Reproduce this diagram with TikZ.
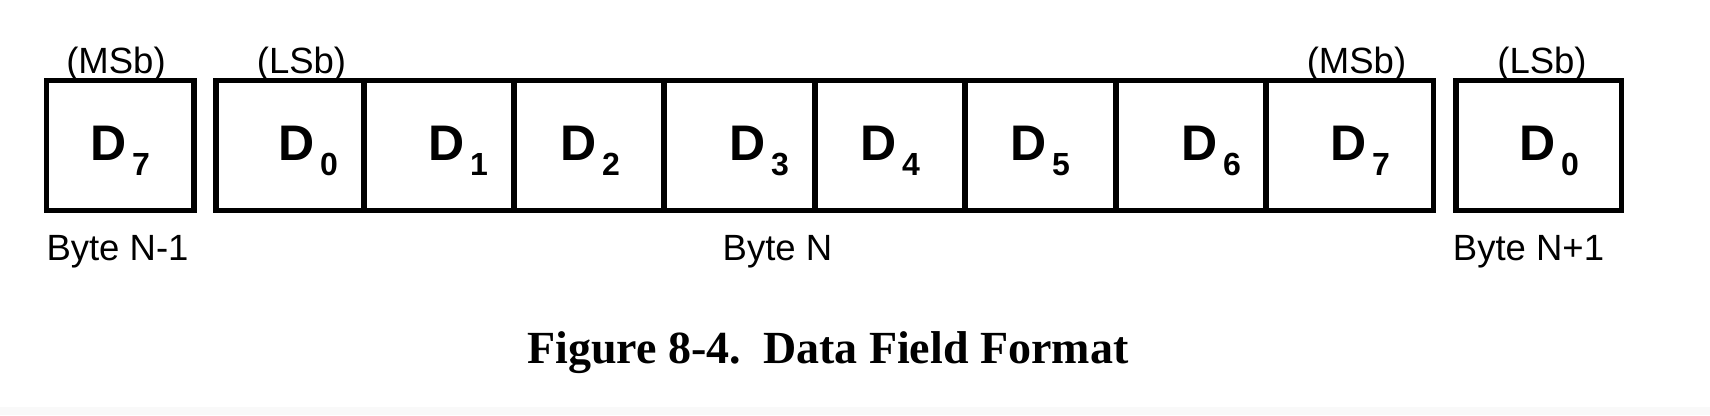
\documentclass[tikz,border=0pt]{standalone}
\usepackage{fontspec}
\setmainfont{Liberation Sans}
\newfontfamily\capfont{Liberation Serif}
\newcommand{\dbit}[1]{D\hspace{5.5pt}\raisebox{-15pt}{\fontsize{32}{32}\selectfont #1}}
\begin{document}
\begin{tikzpicture}[x=1pt,y=-1pt,
  boxline/.style={line width=5.5pt, draw=black},
  dlab/.style={anchor=base west, inner sep=0pt, font=\fontsize{50}{50}\selectfont\bfseries},
  toplab/.style={anchor=base, inner sep=0pt, font=\fontsize{36.5}{36.5}\selectfont},
  bytelab/.style={anchor=base, inner sep=0pt, font=\fontsize{36.5}{36.5}\selectfont},
  caplab/.style={anchor=base west, inner sep=0pt, font=\capfont\bfseries\fontsize{46}{46}\selectfont}]
\useasboundingbox (0,0) rectangle (1710,415);
\fill[black!2.5] (0,407) rectangle (1710,415);
% boxes
\draw[boxline] (46.5,80.5) rectangle (194.2,210.5);
\draw[boxline] (215.8,80.5) rectangle (1433.5,210.5);
\foreach \x in {364,514,664,815,965,1116,1266}
  \draw[boxline] (\x,80.5) -- (\x,210.5);
\draw[boxline] (1455.8,80.5) rectangle (1621.5,210.5);
% bit labels
\node[dlab] (pm7) at (90.3,160) {\dbit{7}};
\node[dlab] (n0) at (278.3,160) {\dbit{0}};
\node[dlab] (n1) at (428.3,160) {\dbit{1}};
\node[dlab] (n2) at (560.3,160) {\dbit{2}};
\node[dlab] (n3) at (729.3,160) {\dbit{3}};
\node[dlab] (n4) at (860.3,160) {\dbit{4}};
\node[dlab] (n5) at (1010.3,160) {\dbit{5}};
\node[dlab] (n6) at (1181.3,160) {\dbit{6}};
\node[dlab] (n7) at (1330.3,160) {\dbit{7}};
\node[dlab] (q0) at (1519.3,160) {\dbit{0}};
% MSb / LSb
\node[toplab] (msb1) at (116,73) {(MSb)};
\node[toplab] (lsb1) at (301.5,73) {(LSb)};
\node[toplab] (msb2) at (1356.5,73) {(MSb)};
\node[toplab] (lsb2) at (1542,73) {(LSb)};
% byte labels
\node[bytelab] (bprev) at (117.5,260) {Byte N-1};
\node[bytelab] (bcur) at (777.5,260) {Byte N};
\node[bytelab] (bnext) at (1528.5,260) {Byte N+1};
% caption
\node[caplab] (cap) at (527,363) {Figure 8-4.\hspace{22pt}Data Field Format};
\end{tikzpicture}
\end{document}
